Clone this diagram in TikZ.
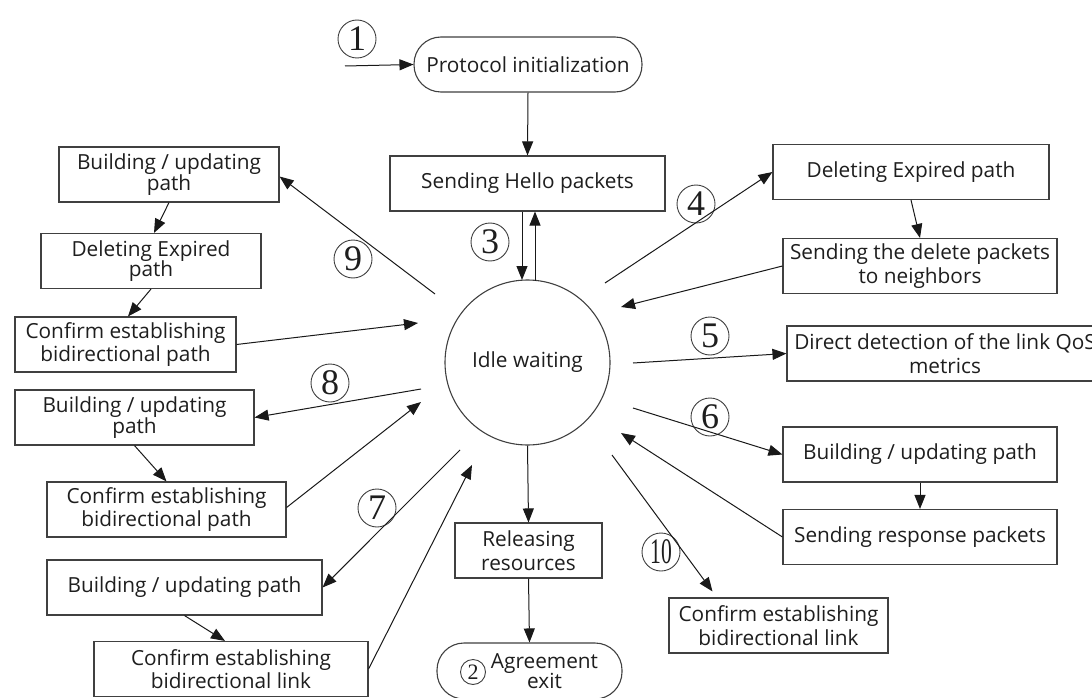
\documentclass[tikz,border=0pt]{standalone}
\usepackage{fontspec}
\setmainfont{Open Sans}
\newfontfamily\numfont{Liberation Serif}
\usetikzlibrary{arrows.meta,calc}
\definecolor{txt}{HTML}{1E1E1E}
\definecolor{edge}{HTML}{404040}
\begin{document}
\begin{tikzpicture}[x=1pt,y=-1pt,
  box/.style={draw=edge,line width=1.1pt,rectangle,align=center,inner sep=0pt,text=txt,
    font=\fontsize{20.8}{23.5}\selectfont,minimum height=55pt},
  stadium/.style={box,rounded corners=27pt},
  circ/.style={draw=edge,line width=0.9pt,circle,inner sep=0pt,minimum size=38pt,text=txt,
    font=\numfont\fontsize{36}{36}\selectfont},
  arr/.style={draw=black!90,line width=1pt,-{Triangle[length=14pt,width=11pt]}}]
\useasboundingbox (0,0) rectangle (1092,698);
\fill[white] (0,0) rectangle (1092,698);

% main nodes
\node[stadium,minimum width=228pt] (proto) at (528,64.5) {Protocol initialization};
\node[box,minimum width=275pt] (hello) at (527.5,183.5) {Sending Hello packets};
\node[circle,draw=edge,line width=1.1pt,minimum size=165pt,inner sep=0pt,text=txt,
  font=\fontsize{20.8}{23.5}\selectfont] (idle) at (527.5,362.5) {Idle waiting};

% left column
\node[box,minimum width=220pt] (bu1) at (169,174.5) {Building / updating\\[-3pt]path};
\node[box,minimum width=220pt] (de1) at (151,261) {Deleting Expired\\[-3pt]path};
\node[box,minimum width=221pt] (cp1) at (125.5,344.5) {Confirm establishing\\bidirectional path};
\node[box,minimum width=239pt] (bu3) at (134.5,417.5) {Building / updating\\[-3pt]path};
\node[box,minimum width=239pt] (cp2) at (166.5,509.5) {Confirm establishing\\bidirectional path};
\node[box,minimum width=275pt] (bu4) at (184.5,587.5) {Building / updating path};
\node[box,minimum width=274pt] (cl2) at (231,669) {Confirm establishing\\bidirectional link};

% right column
\node[box,minimum width=276pt] (de2) at (911,172) {Deleting Expired path};
\node[box,minimum width=274pt] (sd) at (920,266) {Sending the delete packets\\to neighbors};
\node[box,minimum width=316pt] (dd) at (945,353.5) {Direct detection of the link QoS\\metrics};
\node[box,minimum width=274pt] (bu2) at (920,454.5) {Building / updating path};
\node[box,minimum width=274pt] (sr) at (920,537) {Sending response packets};
\node[box,minimum width=219pt] (cl1) at (778.5,625.5) {Confirm establishing\\bidirectional link};

% bottom
\node[box,minimum width=147pt] (rel) at (528.5,550.5) {Releasing\\resources};
\node[stadium,minimum width=185pt,minimum height=56pt] (agr) at (529.5,671)
  {\hspace*{30pt}Agreement\\[-3pt]\hspace*{30pt}exit};
\node[circ,minimum size=25pt,font=\numfont\fontsize{22}{22}\selectfont] (n2) at (473,672) {2};

% circled numbers
\node[circ] (n1) at (357,39) {1};
\node[circ] (n3) at (490,242) {3};
\node[circ] (n4) at (696,204) {4};
\node[circ] (n5) at (710,336) {5};
\node[circ] (n6) at (710,417) {6};
\node[circ] (n7) at (377,508) {7};
\node[circ] (n8) at (330,383) {8};
\node[circ] (n9) at (353,259) {9};
\node[circ] (n10) at (661,552) {\scalebox{0.6}[1]{10}};

% free ends
\coordinate (in1) at (345,66);
\coordinate (t3d) at (522,280);
\coordinate (t3u) at (535,281);
\coordinate (f9) at (435,294);
\coordinate (t9) at (418,323);
\coordinate (f4) at (605,283);
\coordinate (t4) at (621,307);
\coordinate (f5) at (633,363);
\coordinate (f6) at (633,408);
\coordinate (t6) at (621,433);
\coordinate (f10) at (612,455);
\coordinate (f8) at (421,389);
\coordinate (t8) at (421,402);
\coordinate (f7) at (460,450);
\coordinate (t7) at (472,465);

% connectors
\draw[arr] (in1) -- (proto.west);
\draw[arr] (proto.south) -- (hello.north);
\draw[arr] ([xshift=-5.5pt]hello.south) -- (t3d);
\draw[arr] (t3u) -- ([xshift=7.5pt]hello.south);

\draw[arr] (f9) -- ([yshift=-2pt]bu1.east);
\draw[arr] (bu1.south) -- ([xshift=3pt]de1.north);
\draw[arr] (de1.south) -- ([xshift=2.5pt]cp1.north);
\draw[arr] (cp1.east) -- (t9);

\draw[arr] (f4) -- (de2.west);
\draw[arr] (de2.south) -- (sd.north);
\draw[arr] (sd.west) -- (t4);
\draw[arr] (f5) -- (dd.west);
\draw[arr] (f6) -- (bu2.west);
\draw[arr] (bu2.south) -- (sr.north);
\draw[arr] (sr.west) -- (t6);
\draw[arr] (f10) -- ([xshift=-66pt,yshift=6pt]cl1.north);

\draw[arr] (f8) -- (bu3.east);
\draw[arr] (bu3.south) -- (cp2.north);
\draw[arr] ([yshift=2pt]cp2.east) -- (t8);
\draw[arr] (f7) -- (bu4.east);
\draw[arr] (bu4.south) -- ([xshift=-6pt]cl2.north);
\draw[arr] (cl2.east) -- (t7);

\draw[arr] (idle.south) -- (rel.north);
\draw[arr] (rel.south) -- (agr.north);
\end{tikzpicture}
\end{document}
